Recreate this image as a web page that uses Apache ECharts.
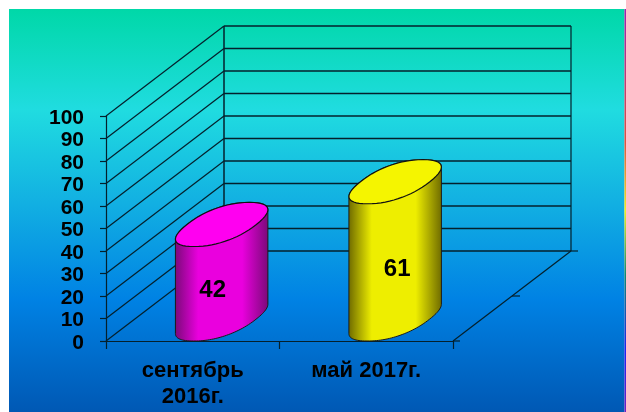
<!DOCTYPE html>
<html>
<head>
<meta charset="utf-8">
<style>
  html, body { margin: 0; padding: 0; background: #fff; }
  #chart { width: 626px; height: 412px; }
</style>
<script src="https://cdn.jsdelivr.net/npm/echarts@6/dist/echarts.min.js"></script>
</head>
<body>
<div id="chart"></div>
<script>
const categories = ['сентябрь\n2016г.', 'май 2017г.'];
const values = [42, 61];
const yTicks = [0, 10, 20, 30, 40, 50, 60, 70, 80, 90, 100];

const barColors = [
  { side: '#7a0a78', mid: '#ea00de', top: '#ff00f0' },
  { side: '#6e6a00', mid: '#eeee00', top: '#f5f500' },
];
// сдвиг подписи относительно центра цилиндра
const labelShift = [-9, 2];

const font = 'Liberation Sans';
const depth = [118, -90]; // вектор глубины "3D" стен
const line = { stroke: '#04202c', lineWidth: 1.2 };

function seg(a, b, w) {
  return {
    type: 'line',
    shape: { x1: a[0], y1: a[1], x2: b[0], y2: b[1] },
    style: { stroke: line.stroke, lineWidth: w || line.lineWidth },
  };
}

// стены и пол, строятся от шкалы оси Y
function renderWalls(params, api) {
  const y0 = api.coord([0, 0])[1];
  const rect = params.coordSys;
  const l = rect.x;
  const r = rect.x + rect.width;
  const dx = depth[0];
  const dy = depth[1];
  const items = [];
  yTicks.forEach((t) => {
    const y = api.coord([0, t])[1];
    items.push(seg([l, y], [l + dx, y + dy]));
    items.push(seg([l + dx, y + dy], [r + dx, y + dy], 1.5));
  });
  const top = api.coord([0, 100])[1];
  items.push(seg([l + dx, top + dy], [l + dx, y0 + dy], 1.5));
  items.push(seg([r + dx, top + dy], [r + dx, y0 + dy]));
  items.push(seg([r, y0], [r + dx, y0 + dy]));
  // риски оси глубины
  items.push(seg([r, y0], [r + 7, y0]));
  items.push(seg([r + dx / 2, y0 + dy / 2], [r + dx / 2 + 8, y0 + dy / 2]));
  items.push(seg([r + dx, y0 + dy], [r + dx + 7, y0 + dy]));
  return { type: 'group', children: items };
}

// чуть "пухлый" эллипс, как в исходной диаграмме
function pw(v) {
  return Math.sign(v) * Math.pow(Math.abs(v), 0.88);
}

function ellipsePts(cx, cy, hw, dx, dy, from, to) {
  const pts = [];
  const n = 60;
  for (let i = 0; i <= n; i++) {
    const t = from + (to - from) * i / n;
    const c = pw(Math.cos(t));
    const s = pw(Math.sin(t));
    pts.push([cx + hw * c + dx * s, cy + dy * s]);
  }
  return pts;
}

function renderCylinder(params, api) {
  const idx = params.dataIndex;
  const cat = api.value(0);
  const val = api.value(1);
  const base = api.coord([cat, 0]);
  const head = api.coord([cat, val]);
  const size = api.size([1, 0])[0];
  const hw = size * 0.2;
  const dx = depth[0] * 0.235;
  const cdx = depth[0] * 0.245;
  const dy = depth[1] * 0.245;
  const cx = base[0] + cdx;
  const by = base[1] + dy;
  const ty = head[1] + dy;
  const a = Math.atan2(dx, hw);
  const bottomEdge = ellipsePts(cx, by, hw, dx, dy, a + Math.PI * 2, a + Math.PI);
  const topRing = ellipsePts(cx, ty, hw, dx, dy, 0, Math.PI * 2);
  const leftTop = ellipsePts(cx, ty, hw, dx, dy, a + Math.PI, a);
  const c = barColors[idx];
  return {
    type: 'group',
    children: [
      {
        type: 'polygon',
        shape: { points: bottomEdge.concat(leftTop) },
        style: {
          fill: new echarts.graphic.LinearGradient(0, 0, 1, 0, [
            { offset: 0, color: c.side },
            { offset: 0.25, color: c.mid },
            { offset: 0.72, color: c.mid },
            { offset: 1, color: c.side },
          ]),
          stroke: '#1a1a1a',
          lineWidth: 1,
        },
      },
      {
        type: 'polygon',
        shape: { points: topRing },
        style: { fill: c.top, stroke: '#111', lineWidth: 1.2 },
      },
      {
        type: 'text',
        style: {
          x: cx + labelShift[idx],
          y: (ty + by) / 2 + 19,
          text: String(val),
          fill: '#000',
          font: 'bold 24px "' + font + '"',
          align: 'center',
          verticalAlign: 'middle',
        },
      },
    ],
  };
}

const chart = echarts.init(document.getElementById('chart'));

chart.setOption({
  animation: false,
  graphic: [
    {
      type: 'rect',
      z: -10,
      shape: { x: 9, y: 9, width: 615.5, height: 403 },
      style: {
        fill: new echarts.graphic.LinearGradient(0, 0, 0, 1, [
          { offset: 0, color: '#00d8a8' },
          { offset: 0.25, color: '#20dce0' },
          { offset: 0.48, color: '#12b0e2' },
          { offset: 0.72, color: '#0082e4' },
          { offset: 1, color: '#0058b4' },
        ]),
      },
    },
    {
      type: 'rect',
      z: -10,
      shape: { x: 624.5, y: 9, width: 1.5, height: 403 },
      style: {
        fill: new echarts.graphic.LinearGradient(0, 0, 0, 1, [
          { offset: 0, color: '#a020b0' },
          { offset: 0.33, color: '#e05040' },
          { offset: 0.5, color: '#f0f020' },
          { offset: 0.66, color: '#108870' },
          { offset: 0.85, color: '#2020f0' },
          { offset: 1, color: '#7020c0' },
        ]),
      },
    },
  ],
  grid: { left: 106, top: 116, width: 347, height: 225 },
  xAxis: {
    type: 'category',
    data: categories,
    axisLine: { lineStyle: { color: '#04202c', width: 1.2 } },
    axisTick: { show: true, length: 8, lineStyle: { color: '#04202c', width: 1.2 } },
    axisLabel: {
      interval: 0,
      margin: 17,
      color: '#000',
      fontFamily: font,
      fontWeight: 'bold',
      fontSize: 22,
      lineHeight: 26,
    },
  },
  yAxis: {
    type: 'value',
    min: 0,
    max: 100,
    interval: 10,
    splitLine: { show: false },
    axisLine: { show: true, lineStyle: { color: '#04202c', width: 1.2 } },
    axisTick: { show: true, length: 6, lineStyle: { color: '#04202c', width: 1.2 } },
    axisLabel: {
      margin: 22,
      formatter: '{t|{value}}',
      rich: {
        t: {
          padding: [4, 0, 0, 0],
          color: '#000',
          fontFamily: font,
          fontWeight: 'bold',
          fontSize: 21,
        },
      },
    },
  },
  series: [
    {
      type: 'custom',
      silent: true,
      z: 1,
      clip: false,
      renderItem: renderWalls,
      encode: { x: 0, y: 1 },
      data: [[0, 0]],
    },
    {
      type: 'custom',
      z: 3,
      clip: false,
      renderItem: renderCylinder,
      encode: { x: 0, y: 1 },
      data: values.map((v, i) => [i, v]),
    },
  ],
});
</script>
</body>
</html>
